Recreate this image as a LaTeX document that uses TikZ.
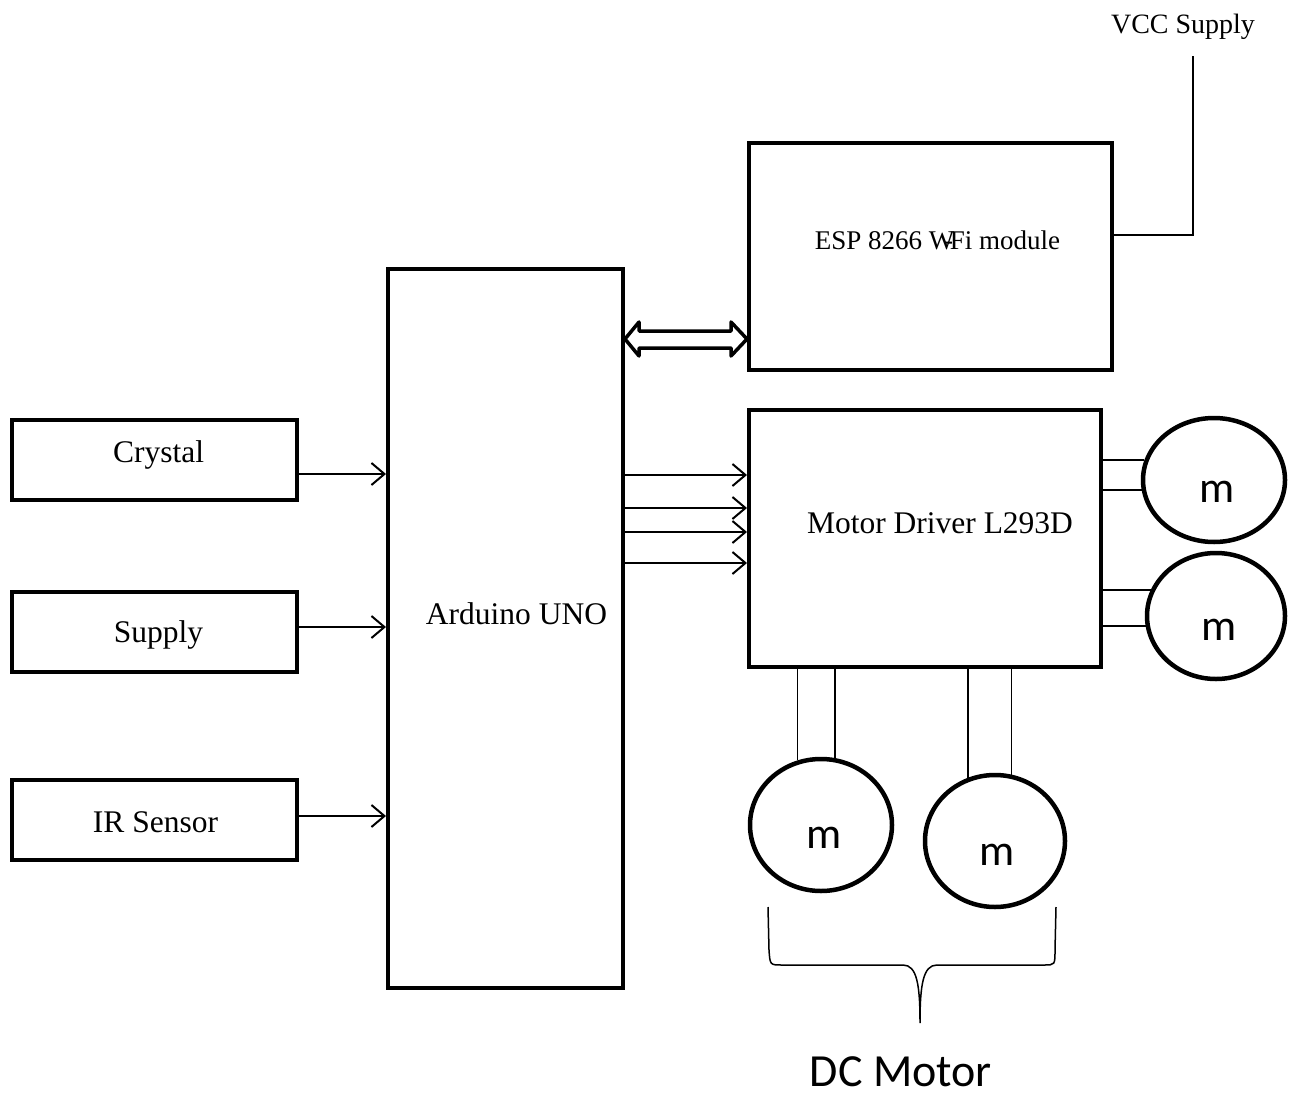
\documentclass[tikz,border=0pt]{standalone}
\usepackage{fontspec}
\setmainfont{Liberation Serif}
\newfontfamily\calfont{Carlito}
\usetikzlibrary{arrows.meta,shapes.geometric,calc}
\begin{document}
\begin{tikzpicture}[x=1pt,y=-1pt,
  box/.style={draw, line width=4pt, rectangle, inner sep=0pt},
  motor/.style={draw, ellipse, line width=4.5pt, inner sep=0pt},
  wire/.style={line width=1.8pt},
  arr/.style={line width=2pt, -{Straight Barb[length=13pt,width=22pt]}},
  lbl/.style={font=\fontsize{31.5}{36}\selectfont},
  lblsmall/.style={font=\fontsize{27}{32}\selectfont},
  mlbl/.style={font=\calfont\fontsize{44}{50}\selectfont},
]
\useasboundingbox (0,0) rectangle (1290,1097);

% left input boxes
\node[box, minimum width=285pt, minimum height=80pt,
  label={[lbl, xshift=4pt, yshift=5pt]center:Crystal}] (crystal) at (154.5,460) {};
\node[box, minimum width=285pt, minimum height=80pt,
  label={[lbl, xshift=4pt, yshift=-3pt]center:Supply}] (supply) at (154.5,631.5) {};
\node[box, minimum width=285pt, minimum height=80pt,
  label={[lbl, xshift=1pt, yshift=-2pt]center:IR Sensor}] (ir) at (154.5,820) {};

% Arduino
\node[box, minimum width=235pt, minimum height=719pt,
  label={[lbl, xshift=11pt, yshift=15pt]center:Arduino UNO}] (ard) at (505.5,628.5) {};

% ESP
\node[box, minimum width=363pt, minimum height=227pt,
  label={[lblsmall, xshift=7pt, yshift=16pt]center:ESP 8266 W\kern-.38em-\kern-.12em Fi module}] (esp) at (930.5,256.5) {};

% Motor driver
\node[box, minimum width=352pt, minimum height=257pt,
  label={[lbl, xshift=15pt, yshift=15pt]center:Motor Driver L293D}] (drv) at (925,538.5) {};

% VCC supply
\node[font=\fontsize{28}{32}\selectfont] (vcc) at (1183,27) {VCC Supply};
\coordinate (vtop) at (1193,56);
\draw[wire] (esp.east |- 0,235) -| (vtop);

% input arrows
\draw[arr] (crystal.east |- 0,474) -- (ard.west |- 0,474);
\draw[arr] (supply.east |- 0,627) -- (ard.west |- 0,627);
\draw[arr] (ir.east |- 0,816) -- (ard.west |- 0,816);

% arduino to driver arrows
\foreach \yy in {475,508,532,563}
  \draw[arr] (ard.east |- 0,\yy) -- (drv.west |- 0,\yy);

% double arrow arduino <-> esp
\coordinate (dl) at (ard.east |- 0,339);
\coordinate (dr) at (esp.west |- 0,339);
\draw[line width=3.5pt, line join=round]
  (dl) -- ++(14,-17) -- ++(0,9) -- ($(dr)+(-16,-8)$) -- ++(0,-9) -- (dr)
  -- ++(-16,17) -- ++(0,-8) -- ($(dl)+(14,9)$) -- ++(0,8) -- cycle;

% motors
\node[motor, minimum width=142pt, minimum height=124pt,
  label={[mlbl, xshift=3pt, yshift=-12pt]center:m}] (m1) at (1214,480) {};
\node[motor, minimum width=138pt, minimum height=126pt,
  label={[mlbl, xshift=3pt, yshift=-14pt]center:m}] (m2) at (1216,616) {};
\node[motor, minimum width=142pt, minimum height=132pt,
  label={[mlbl, xshift=3pt, yshift=-13pt]center:m}] (m3) at (821,825) {};
\node[motor, minimum width=140pt, minimum height=132pt,
  label={[mlbl, xshift=2pt, yshift=-14pt]center:m}] (m4) at (995,841) {};

% motor wires
\draw[wire] (drv.east |- m1.164) -- (m1.164);
\draw[wire] (drv.east |- m1.188) -- (m1.188);
\draw[wire] (drv.east |- m2.158.5) -- (m2.158.5);
\draw[wire] (drv.east |- m2.188.4) -- (m2.188.4);
\draw[wire] (m3.110 |- drv.south) -- (m3.110);
\draw[wire] (m3.78.7 |- drv.south) -- (m3.78.7);
\draw[wire] (m4.113 |- drv.south) -- (m4.113);
\draw[wire] (m4.76 |- drv.south) -- (m4.76);

% brace
\draw[line width=1.5pt]
  (768,907) -- (769,950) .. controls (770,965) .. (782,965) -- (903,965)
  .. controls (917,965) and (920,985) .. (920,1023)
  .. controls (920,985) and (923,965) .. (937,965) -- (1044,965)
  .. controls (1055,965) .. (1055,950) -- (1056,907);

\node[font=\calfont\fontsize{46}{52}\selectfont, inner sep=0pt, anchor=base] (dc) at (901,1086) {DC Motor};
\end{tikzpicture}
\end{document}
